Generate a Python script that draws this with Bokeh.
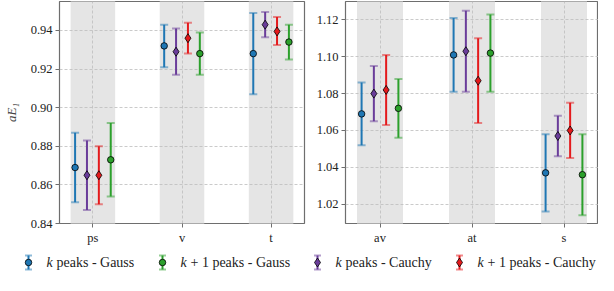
from bokeh.plotting import figure
from bokeh.models import Range1d, FixedTicker, Whisker, TeeHead, ColumnDataSource
from bokeh.layouts import column, row
from bokeh.embed import file_html
from bokeh.resources import INLINE

# ---------------- data ----------------
left_cats = ["ps", "v", "t"]
right_cats = ["av", "at", "s"]

# k peaks - Gauss
lg_val = [0.869, 0.932, 0.928]
lg_lo = [0.851, 0.921, 0.907]
lg_hi = [0.887, 0.943, 0.949]
rg_val = [1.069, 1.101, 1.037]
rg_lo = [1.052, 1.081, 1.016]
rg_hi = [1.086, 1.121, 1.058]

# k peaks - Cauchy
lc_val = [0.865, 0.929, 0.943]
lc_lo = [0.847, 0.917, 0.9365]
lc_hi = [0.883, 0.941, 0.9495]
rc_val = [1.080, 1.103, 1.057]
rc_lo = [1.065, 1.081, 1.046]
rc_hi = [1.095, 1.125, 1.068]

# k+1 peaks - Cauchy
lc1_val = [0.865, 0.936, 0.9395]
lc1_lo = [0.850, 0.928, 0.9325]
lc1_hi = [0.880, 0.944, 0.947]
rc1_val = [1.082, 1.087, 1.060]
rc1_lo = [1.063, 1.064, 1.045]
rc1_hi = [1.101, 1.110, 1.075]

# k+1 peaks - Gauss
lg1_val = [0.873, 0.928, 0.934]
lg1_lo = [0.854, 0.917, 0.925]
lg1_hi = [0.892, 0.939, 0.943]
rg1_val = [1.072, 1.102, 1.036]
rg1_lo = [1.056, 1.081, 1.014]
rg1_hi = [1.088, 1.123, 1.058]

left_ticks = [0.84, 0.86, 0.88, 0.90, 0.92, 0.94]
right_ticks = [1.02, 1.04, 1.06, 1.08, 1.10, 1.12]

leg_labels = ["peaks - Gauss", "+ 1 peaks - Gauss", "peaks - Cauchy", "+ 1 peaks - Cauchy"]

# ---------------- style ----------------
BLUE = "#1f77b4"
GREEN = "#2ca02c"
PURPLE = "#6a3d9a"
RED = "#e41a1c"
FONT = "Liberation Serif"
FRAME = "#6e6e6e"
TXT = "#222222"

series_left = [
    (lg_val, lg_lo, lg_hi, BLUE, "circle", -0.2),
    (lc_val, lc_lo, lc_hi, PURPLE, "diamond", -0.0667),
    (lc1_val, lc1_lo, lc1_hi, RED, "diamond", 0.0667),
    (lg1_val, lg1_lo, lg1_hi, GREEN, "circle", 0.2),
]
series_right = [
    (rg_val, rg_lo, rg_hi, BLUE, "circle", -0.2),
    (rc_val, rc_lo, rc_hi, PURPLE, "diamond", -0.0667),
    (rc1_val, rc1_lo, rc1_hi, RED, "diamond", 0.0667),
    (rg1_val, rg1_lo, rg1_hi, GREEN, "circle", 0.2),
]


def panel(cats, series, yr, ticks, width, height, bl, br, ylabel=None):
    p = figure(width=width, height=height, output_backend="svg", toolbar_location=None,
               x_range=Range1d(-0.375, len(cats) - 1 + 0.375), y_range=Range1d(*yr),
               min_border_left=bl, min_border_right=br, min_border_top=1, min_border_bottom=22)
    xs = list(range(len(cats)))
    p.quad(left=[x - 0.25 for x in xs], right=[x + 0.25 for x in xs],
           bottom=[yr[0] - 1] * len(xs), top=[yr[1] + 1] * len(xs),
           fill_color="#e5e5e5", line_color=None, level="image")
    for vals, lo, hi, col, mk, off in series:
        src = ColumnDataSource(dict(x=[x + off for x in xs], y=vals, lo=lo, hi=hi))
        w = Whisker(base="x", lower="lo", upper="hi", source=src, dimension="height",
                    line_color=col, line_width=2,
                    upper_head=TeeHead(size=8, line_color=col, line_alpha=0.5, line_width=2),
                    lower_head=TeeHead(size=8, line_color=col, line_alpha=0.5, line_width=2))
        p.add_layout(w)
        p.scatter("x", "y", source=src, marker=mk, size=6.5 if mk == "circle" else 9,
                  fill_color=col, line_color="black", line_width=0.8)
    p.xaxis.ticker = FixedTicker(ticks=xs)
    p.xaxis.major_label_overrides = {i: c for i, c in enumerate(cats)}
    p.yaxis.ticker = FixedTicker(ticks=ticks)
    p.yaxis.major_label_overrides = {t: f"{t:.2f}" for t in ticks}
    for ax in (p.xaxis, p.yaxis):
        ax.axis_line_color = None
        ax.major_tick_line_color = FRAME
        ax.major_tick_out = 4
        ax.major_tick_in = 0
        ax.minor_tick_line_color = None
        ax.major_label_text_font = FONT
        ax.major_label_text_font_size = "12.5px"
        ax.major_label_text_color = TXT
        ax.major_label_standoff = 3
    p.xgrid.ticker = FixedTicker(ticks=xs)
    p.ygrid.ticker = FixedTicker(ticks=ticks)
    p.grid.grid_line_color = "#bdbdbd"
    p.grid.grid_line_dash = "3 2"
    p.grid.grid_line_width = 0.8
    p.outline_line_color = FRAME
    p.outline_line_width = 1.2
    if ylabel:
        p.yaxis.axis_label = ylabel
        p.yaxis.axis_label_text_font = FONT
        p.yaxis.axis_label_text_font_style = "italic"
        p.yaxis.axis_label_text_font_size = "13px"
        p.yaxis.axis_label_standoff = 9
    return p


p1 = panel(left_cats, series_left, (0.84, 0.955), left_ticks, 309, 247, 52, 5, "aE\u2081")
p2 = panel(right_cats, series_right, (1.0095, 1.130), right_ticks, 289, 247, 36, 0)

# ---------------- legend ----------------
leg = figure(width=598, height=28, output_backend="svg", toolbar_location=None,
             x_range=Range1d(0, 598), y_range=Range1d(0, 28),
             x_axis_type=None, y_axis_type=None, min_border=0)
leg.outline_line_color = None
leg.grid.visible = False

leg_colors = [BLUE, GREEN, PURPLE, RED]
leg_markers = ["circle", "circle", "diamond", "diamond"]
leg_x = [28, 162, 317, 459]
ly = 13
LFS = "14px"
for lab, col, mk, lx in zip(leg_labels, leg_colors, leg_markers, leg_x):
    src = ColumnDataSource(dict(x=[lx], y=[ly], lo=[ly - 7], hi=[ly + 7]))
    leg.add_layout(Whisker(base="x", lower="lo", upper="hi", source=src, dimension="height",
                           line_color=col, line_width=2,
                           upper_head=TeeHead(size=7, line_color=col, line_alpha=0.5, line_width=2),
                           lower_head=TeeHead(size=7, line_color=col, line_alpha=0.5, line_width=2)))
    leg.scatter("x", "y", source=src, marker=mk, size=6.5 if mk == "circle" else 9,
                fill_color=col, line_color="black", line_width=0.8)
    tx = lx + 18
    leg.text(x=[tx], y=[ly], text=["k"], text_font=FONT, text_font_style="italic",
             text_font_size=LFS, text_baseline="middle", text_color=TXT)
    leg.text(x=[tx + 10], y=[ly], text=[lab], text_font=FONT,
             text_font_size=LFS, text_baseline="middle", text_color=TXT)

layout = column(row(p1, p2), leg, spacing=0)
open("out.html", "w").write(file_html(layout, INLINE))
